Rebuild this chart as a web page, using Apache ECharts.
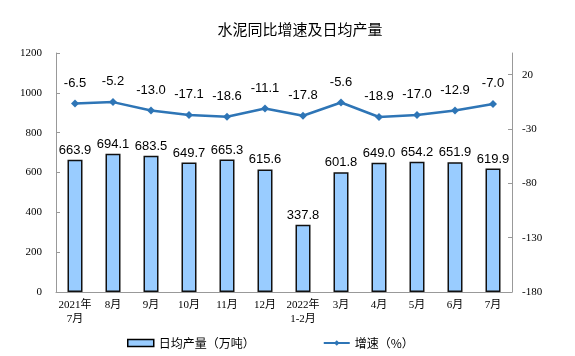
<!DOCTYPE html>
<html><head><meta charset="utf-8">
<script src="https://cdn.jsdelivr.net/npm/echarts@6/dist/echarts.min.js"></script>
<style>html,body{margin:0;padding:0;background:#fff}#c{width:575px;height:356px}</style>
</head><body><div id="c"></div>
<script>
var categories = ['2021年\n7月','8月','9月','10月','11月','12月','2022年\n1-2月','3月','4月','5月','6月','7月'];
var output = [663.9,694.1,683.5,649.7,665.3,615.6,337.8,601.8,649.0,654.2,651.9,619.9];
var growth = [-6.5,-5.2,-13.0,-17.1,-18.6,-11.1,-17.8,-5.6,-18.9,-17.0,-12.9,-7.0];
var leftTicks = [0,200,400,600,800,1000,1200];
var rightTicks = [-180,-130,-80,-30,20];

var serif = '"Liberation Serif","Noto Sans CJK SC",serif';
var sans = '"Liberation Sans",Arial,"Noto Sans CJK SC",sans-serif';
var chart = echarts.init(document.getElementById('c'));
chart.setOption({
  animation:false,
  title:{text:'水泥同比增速及日均产量',left:295,textAlign:'center',top:17,
    textStyle:{fontSize:15,fontWeight:'normal',color:'#000',fontFamily:'"Noto Sans CJK SC",sans-serif'}},
  grid:{left:56,right:63,top:53,bottom:64},
  legend:{left:122,top:332,itemGap:68,
    textStyle:{fontSize:12,color:'#000',fontFamily:'"Noto Sans CJK SC",sans-serif'},
    data:[{name:'日均产量（万吨）',icon:'rect',itemStyle:{borderColor:'#000',borderWidth:1.5}},{name:'增速（%）'}],
    itemWidth:26,itemHeight:7},
  xAxis:{type:'category',data:categories,boundaryGap:true,
    axisLine:{lineStyle:{color:'#999'}},
    axisTick:{inside:true,length:3,lineStyle:{color:'#999'}},
    axisLabel:{color:'#000',fontSize:11,fontFamily:serif,interval:0,lineHeight:14,margin:6}},
  yAxis:[
    {type:'value',min:0,max:1200,interval:200,splitLine:{show:false},
     axisLine:{show:true,lineStyle:{color:'#999'}},
     axisTick:{show:true,inside:true,length:4,lineStyle:{color:'#999'}},
     axisLabel:{color:'#000',fontSize:11,fontFamily:serif,margin:14,
       formatter:function(v){return String(v);}}},
    {type:'value',min:-180,max:40,interval:50,splitLine:{show:false},position:'right',
     axisLine:{show:true,lineStyle:{color:'#999'}},
     axisTick:{show:true,inside:true,length:4,lineStyle:{color:'#999'}},
     axisLabel:{color:'#000',fontSize:11,fontFamily:serif,margin:10,showMaxLabel:false}}
  ],
  series:[
    {name:'日均产量（万吨）',type:'bar',data:output,barWidth:15,yAxisIndex:0,
     itemStyle:{color:'#99CCFF',borderColor:'#111',borderWidth:1.5},
     label:{show:true,position:'top',distance:3,color:'#000',fontSize:13,fontFamily:sans,
       formatter:function(p){return p.value.toFixed(1);}}},
    {name:'增速（%）',type:'line',data:growth,yAxisIndex:1,
     symbol:'diamond',symbolSize:8,
     lineStyle:{color:'#2E75B6',width:2.5},itemStyle:{color:'#2E75B6'},
     label:{show:true,position:'top',distance:10,color:'#000',fontSize:13,fontFamily:sans,
       formatter:function(p){return p.value.toFixed(1);}}}
  ]
});
</script></body></html>
